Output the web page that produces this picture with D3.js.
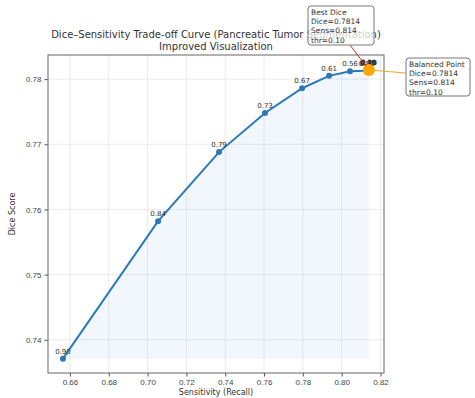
<!DOCTYPE html>
<html>
<head>
<meta charset="utf-8">
<script src="https://cdn.jsdelivr.net/npm/d3@7"></script>
<style>
  body { margin: 0; background: #fff; }
  svg { font-family: "DejaVu Sans", sans-serif; }
</style>
</head>
<body>
<div id="chart"></div>
<script>
// thresholds, sensitivity and dice
const thresholds = [0.90, 0.84, 0.79, 0.73, 0.67, 0.61, 0.56, 0.50, 0.45, 0.40, 0.35, 0.30, 0.25, 0.20, 0.15, 0.10];
const sensitivity = [0.6564, 0.7054, 0.7368, 0.7605, 0.7796, 0.7935, 0.8043, 0.8128, 0.8133, 0.8135, 0.8137, 0.8138, 0.8139, 0.8140, 0.8140, 0.8140];
const dice = [0.7371, 0.7582, 0.7688, 0.7748, 0.7786, 0.7805, 0.7812, 0.7813, 0.7813, 0.7814, 0.7814, 0.7814, 0.7814, 0.7814, 0.7814, 0.7814];
const xTicks = [0.66, 0.68, 0.70, 0.72, 0.74, 0.76, 0.78, 0.80, 0.82];
const yTicks = [0.74, 0.75, 0.76, 0.77, 0.78];
const bestIdx = 15;
const balancedIdx = 15;

const width = 475, height = 398;
const margin = { top: 55, right: 91, bottom: 25, left: 48 };

const svg = d3.select("#chart").append("svg")
  .attr("width", width)
  .attr("height", height);

const x = d3.scaleLinear().domain([0.6487, 0.8218]).range([margin.left, width - margin.right]);
const y = d3.scaleLinear().domain([0.7349, 0.7837]).range([height - margin.bottom, margin.top]);

const pts = thresholds.map((t, i) => ({ t, s: sensitivity[i], d: dice[i] }));

// grid
svg.append("g").selectAll("line").data(xTicks).join("line")
  .attr("x1", d => x(d)).attr("x2", d => x(d))
  .attr("y1", margin.top).attr("y2", height - margin.bottom)
  .attr("stroke", "#e6e6e6").attr("stroke-width", 0.8);
svg.append("g").selectAll("line").data(yTicks).join("line")
  .attr("x1", margin.left).attr("x2", width - margin.right)
  .attr("y1", d => y(d)).attr("y2", d => y(d))
  .attr("stroke", "#e6e6e6").attr("stroke-width", 0.8);

// filled area under curve
const minDice = d3.min(dice);
svg.append("path")
  .datum(pts)
  .attr("fill", "#4a9be0").attr("fill-opacity", 0.08)
  .attr("d", d3.area().x(d => x(d.s)).y0(y(minDice)).y1(d => y(d.d)));

// axes
const xAxis = svg.append("g")
  .attr("transform", `translate(0,${height - margin.bottom})`)
  .call(d3.axisBottom(x).tickValues(xTicks).tickFormat(d3.format(".2f")).tickSize(3.5).tickPadding(3));
const yAxis = svg.append("g")
  .attr("transform", `translate(${margin.left},0)`)
  .call(d3.axisLeft(y).tickValues(yTicks).tickFormat(d3.format(".2f")).tickSize(3.5).tickPadding(3));
[xAxis, yAxis].forEach(g => {
  g.select(".domain").remove();
  g.selectAll("line").attr("stroke", "#555");
  g.selectAll("text").attr("fill", "#444").style("font-size", "8px");
});

// frame
svg.append("rect")
  .attr("x", margin.left).attr("y", margin.top)
  .attr("width", width - margin.left - margin.right)
  .attr("height", height - margin.top - margin.bottom)
  .attr("fill", "none").attr("stroke", "#666").attr("stroke-width", 1);

// curve
svg.append("path")
  .datum(pts)
  .attr("fill", "none").attr("stroke", "#2a7ab8").attr("stroke-width", 2)
  .attr("d", d3.line().x(d => x(d.s)).y(d => y(d.d)));

svg.append("g").selectAll("circle").data(pts).join("circle")
  .attr("cx", d => x(d.s)).attr("cy", d => y(d.d)).attr("r", 3)
  .attr("fill", "#2a7ab8");

svg.append("g").selectAll("text").data(pts).join("text")
  .attr("x", d => x(d.s)).attr("y", d => y(d.d) - 5)
  .attr("text-anchor", "middle")
  .attr("fill", "#333").style("font-size", "7px")
  .text(d => d.t.toFixed(2));

// balanced point
const bal = pts[balancedIdx];
svg.append("line")
  .attr("x1", x(bal.s)).attr("y1", y(bal.d))
  .attr("x2", 406).attr("y2", 73)
  .attr("stroke", "#f5a623").attr("stroke-width", 1);
svg.append("circle")
  .attr("cx", x(bal.s)).attr("cy", y(bal.d)).attr("r", 6)
  .attr("fill", "#ffa500");

// title
const title = svg.append("text")
  .attr("text-anchor", "middle").attr("fill", "#333").style("font-size", "10px");
title.append("tspan").attr("x", (margin.left + width - margin.right) / 2).attr("y", 38)
  .text("Dice–Sensitivity Trade-off Curve (Pancreatic Tumor Segmentation)");
title.append("tspan").attr("x", (margin.left + width - margin.right) / 2).attr("y", 50)
  .text("Improved Visualization");

// best dice annotation
const best = pts[bestIdx];
svg.append("line")
  .attr("x1", 350).attr("y1", 45)
  .attr("x2", x(best.s) - 3).attr("y2", y(best.d) - 4)
  .attr("stroke", "#d62728").attr("stroke-width", 1);

function noteBox(bx, by, bw, bh, lines) {
  svg.append("rect")
    .attr("x", bx).attr("y", by).attr("width", bw).attr("height", bh)
    .attr("rx", 3)
    .attr("fill", "#fff").attr("fill-opacity", 0.75)
    .attr("stroke", "#777").attr("stroke-width", 1);
  svg.append("g").selectAll("text").data(lines).join("text")
    .attr("x", bx + 3).attr("y", (d, i) => by + 9 + i * 9.2)
    .attr("fill", "#333").style("font-size", "7.5px")
    .text(d => d);
}

noteBox(308, 6, 66, 39, [
  "Best Dice",
  `Dice=${best.d.toFixed(4)}`,
  `Sens=${best.s.toFixed(3)}`,
  `thr=${best.t.toFixed(2)}`
]);
noteBox(406, 58, 64, 38, [
  "Balanced Point",
  `Dice=${bal.d.toFixed(4)}`,
  `Sens=${bal.s.toFixed(3)}`,
  `thr=${bal.t.toFixed(2)}`
]);

// axis labels
svg.append("text")
  .attr("x", (margin.left + width - margin.right) / 2).attr("y", 395)
  .attr("text-anchor", "middle").attr("fill", "#333").style("font-size", "8px")
  .text("Sensitivity (Recall)");
svg.append("text")
  .attr("transform", `translate(15,${(margin.top + height - margin.bottom) / 2}) rotate(-90)`)
  .attr("text-anchor", "middle").attr("fill", "#333").style("font-size", "8px")
  .text("Dice Score");
</script>
</body>
</html>
